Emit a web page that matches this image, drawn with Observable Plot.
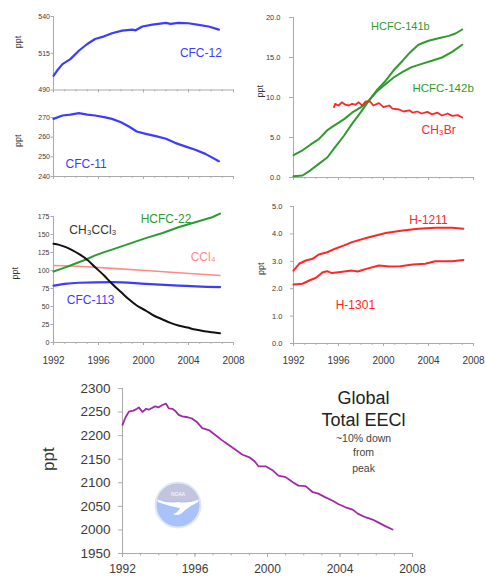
<!DOCTYPE html>
<html><head><meta charset="utf-8">
<script src="https://cdn.jsdelivr.net/npm/d3@7"></script>
<script src="https://cdn.jsdelivr.net/npm/@observablehq/plot@0.6"></script>
<style>
html,body{margin:0;padding:0;background:#fff;overflow:hidden;}
#chart{position:relative;width:486px;height:577px;overflow:hidden;font-family:"Liberation Sans",Arial,Helvetica,sans-serif;}
#chart svg.panel{position:absolute;}
#logo{position:absolute;left:154px;top:481px;}
</style></head><body><div id="chart">
<svg id="logo" width="48" height="48" viewBox="0 0 48 48">
  <circle cx="24" cy="24" r="22.5" fill="#a9c3fa" stroke="#e2e8f7" stroke-width="2"/>
  <path d="M3.2,17.5 A22,22 0 0 1 44.8,17.5 Q34,21.5 24,19.5 Q14,21.5 3.2,17.5Z" fill="#c3c5de"/>
  <path d="M3.4,18.5 Q14,23 24,21 Q34,23 44.6,18.5 L44.2,21 Q36,25 30,30 Q25,36 19,33 Q24,32 26,27 Q18,26 3.8,21Z" fill="#ffffff"/>
  <text x="24" y="14.5" font-size="5" fill="#ffffff" text-anchor="middle" font-family="Liberation Sans, Arial, sans-serif">NOAA</text>
</svg>
</div>
<script>
// ---------------- DATA ----------------
const cfc12Years  = [1992.0,1992.4,1992.8,1993.5,1994.25,1995.0,1995.7,1996.5,1997.2,1998.1,1999.0,1999.3,1999.9,2000.8,2002.0,2002.4,2003.1,2004.0,2004.9,2005.8,2006.7];
const cfc12Values = [499.6,504.0,507.6,511.0,516.7,521.3,524.7,526.5,528.6,530.4,531.1,530.6,533.2,534.5,535.7,535.0,535.7,535.4,534.3,533.2,531.1];

const cfc11Years  = [1992.0,1992.8,1993.5,1994.25,1995.0,1995.7,1996.5,1997.2,1998.0,1998.7,1999.4,2000.2,2001.1,2002.0,2002.8,2003.7,2004.6,2005.5,2006.7];
const cfc11Values = [269.3,271.0,271.5,272.2,271.5,271.0,270.2,269.3,267.6,265.4,262.9,261.7,260.5,259.2,257.1,255.3,253.6,251.5,247.8];

const hcfc141bYears  = [1992.0,1992.8,1993.5,1994.25,1995.0,1995.7,1996.5,1997.2,1998.0,1998.7,1999.4,2000.2,2000.9,2001.7,2002.4,2003.1,2004.0,2004.9,2005.8,2006.4,2007.0];
const hcfc141bValues = [0.15,0.25,0.9,1.7,2.5,3.8,5.25,6.7,8.2,9.6,10.9,12.1,13.4,14.6,15.7,16.6,17.1,17.4,17.7,18.0,18.5];

const hcfc142bYears  = [1992.0,1992.8,1993.5,1994.25,1995.0,1995.4,1996.5,1997.2,1998.0,1998.7,1999.4,2000.2,2000.9,2001.7,2002.5,2003.4,2004.3,2005.2,2006.1,2007.0];
const hcfc142bValues = [2.8,3.4,4.1,4.8,5.9,6.3,7.3,8.1,8.8,9.6,10.75,11.7,12.5,13.2,13.8,14.2,14.6,15.0,15.7,16.6];

const ch3brYears  = [1995.6,1995.7,1996.0,1996.3,1996.6,1996.9,1997.2,1997.5,1997.8,1998.1,1998.4,1998.8,1999.1,1999.6,2000.0,2000.5,2000.8,2001.4,2001.8,2002.3,2002.6,2003.0,2003.4,2003.9,2004.3,2004.8,2005.2,2005.7,2006.1,2006.6,2007.0];
const ch3brValues = [8.8,9.2,9.0,9.4,9.1,9.0,9.2,9.1,9.4,9.0,9.5,9.5,9.0,9.3,8.8,9.0,8.6,8.5,8.25,8.4,8.1,8.25,8.0,8.2,7.9,8.1,7.75,8.0,7.7,7.8,7.5];

const hcfc22Years  = [1992.0,1992.8,1993.5,1994.25,1995.0,1995.7,1996.5,1997.2,1998.7,2000.2,2001.7,2003.1,2004.6,2006.1,2006.8];
const hcfc22Values = [98.6,103,107,111.5,116,121,125.5,129,137,145,152,160,167,174,179];

const ch3ccl3Years  = [1992.0,1992.5,1993.1,1993.7,1994.25,1995.0,1995.7,1996.5,1997.2,1998.0,1998.7,1999.4,2000.2,2000.9,2001.7,2002.4,2003.1,2003.9,2004.6,2005.4,2006.1,2006.8];
const ch3ccl3Values = [137,135.6,132.4,128,123,115,104.6,93,81.5,70,60,51.4,44.4,37.5,32,27.3,23.6,20.8,18,15.7,14.3,13];

const ccl4Years  = [1992.0,1994.25,1997.2,2000.2,2003.1,2006.8];
const ccl4Values = [107,106,103,100,96.8,93];

const cfc113Years  = [1992.0,1993.0,1994.25,1997.2,2000.2,2003.1,2006.8];
const cfc113Values = [79,81.5,83,83.8,81.5,79,76.8];

const h1211Years  = [1992.0,1992.5,1993.1,1993.7,1994.25,1995.0,1995.7,1996.5,1997.2,1998.7,2000.2,2001.7,2003.1,2004.6,2006.1,2007.1];
const h1211Values = [2.66,2.91,3.03,3.09,3.25,3.33,3.46,3.58,3.70,3.88,4.03,4.12,4.19,4.22,4.22,4.19];

const h1301Years  = [1992.0,1992.8,1993.4,1994.0,1994.6,1995.0,1995.4,1996.0,1997.2,1997.7,1998.7,1999.6,2000.5,2001.5,2002.6,2003.7,2004.6,2006.1,2007.1];
const h1301Values = [2.15,2.18,2.30,2.40,2.60,2.64,2.57,2.60,2.66,2.63,2.75,2.85,2.81,2.82,2.88,2.91,3.00,3.00,3.05];

const eeclYears  = [1992.0,1992.17,1992.35,1992.6,1992.8,1992.9,1993.1,1993.3,1993.45,1993.6,1993.8,1994.0,1994.2,1994.4,1994.55,1994.75,1994.9,1995.1,1995.3,1995.6,1995.85,1996.1,1996.4,1996.8,1997.1,1997.5,1997.9,1998.2,1998.6,1999.0,1999.3,1999.5,1999.9,2000.3,2000.6,2001.0,2001.4,2001.7,2002.1,2002.5,2002.8,2003.2,2003.6,2003.9,2004.3,2004.7,2005.0,2005.4,2005.8,2006.1,2006.5,2006.9];
const eeclValues = [2223,2239,2251,2253,2257,2260,2250,2257,2255,2258,2262,2260,2265,2268,2258,2257,2253,2244,2241,2239,2236,2229,2216,2211,2202,2190,2179,2171,2160,2154,2145,2135,2135,2126,2115,2112,2101,2094,2093,2080,2077,2069,2062,2055,2048,2043,2034,2027,2022,2016,2008,2001];

const yearTicks  = [1992,1996,2000,2004,2008];
const yearMinor  = [1992,1993,1994,1995,1996,1997,1998,1999,2000,2001,2002,2003,2004,2005,2006,2007,2008];

const cfc12Ticks = [490,515,540];
const cfc11Ticks = [240,250,260,270];
const hcfcTicks  = [0,5,10,15,20];
const mixTicks   = [0,25,50,75,100,125,150,175];
const halonTicks = [0,1,2,3,4,5];
const eeclTicks  = [1950,2000,2050,2100,2150,2200,2250,2300];

// ---------------- HELPERS ----------------
const FONT = '"Liberation Sans", Arial, Helvetica, sans-serif';
const AXIS = "#aaaaaa";
const TICKTXT = "#3a3a3a";
const chart = document.getElementById("chart");
const rows = (xs, ys) => xs.map((x, i) => ({x, y: ys[i]}));

function panel(cfg) {
  const {box, frame, yDomain, yTicks, yFmt, ySize, yTickSize, yPad, showX, xSize, xTickSize, xPad, ppt, series, labels, extra = []} = cfg;
  const xDomain = [1992, 2008];
  const marks = [
    Plot.ruleY([yDomain[0]], {x1: xDomain[0], x2: xDomain[1], stroke: AXIS}),
    Plot.ruleX([xDomain[0]], {y1: yDomain[0], y2: yDomain[1], stroke: AXIS}),
    Plot.axisX(yearMinor, {anchor: "bottom", tickSize: xTickSize * 0.6, fill: "none", stroke: AXIS, label: null}),
    Plot.axisX(yearTicks, {anchor: "bottom", tickSize: xTickSize, tickPadding: xPad, stroke: AXIS,
      fill: showX ? TICKTXT : "none", fontSize: xSize, tickFormat: d => String(d), label: null}),
    Plot.axisY(yTicks, {anchor: "left", tickSize: yTickSize, tickPadding: yPad, stroke: AXIS,
      fill: TICKTXT, fontSize: ySize, tickFormat: yFmt, label: null}),
    Plot.text(["ppt"], {text: d => d, frameAnchor: "left", dx: ppt.dx, dy: ppt.dy || 0, rotate: -90,
      fontSize: ppt.size, fill: "#333"}),
    ...series.map(s => Plot.line(rows(s.xs, s.ys), {x: "x", y: "y", stroke: s.color, strokeWidth: s.width || 2,
      curve: s.curve || "linear", strokeLinejoin: "round"})),
    ...labels.map(l => Plot.text([l], {x: "x", y: "y", text: "t", fill: l.color, fontSize: l.size || 12})),
    ...extra
  ];
  const svg = Plot.plot({
    width: box.w, height: box.h,
    marginLeft: frame.l - box.x, marginRight: box.x + box.w - frame.r,
    marginTop: frame.t - box.y, marginBottom: box.y + box.h - frame.b,
    style: {fontFamily: FONT, background: "transparent", overflow: "visible"},
    x: {domain: xDomain},
    y: {domain: yDomain},
    marks
  });
  svg.classList.add("panel");
  svg.style.left = box.x + "px";
  svg.style.top = box.y + "px";
  chart.appendChild(svg);
}

const BLUE = "#3c3cff", GREEN = "#2f9a2f", RED = "#ff2626", PINK = "#ff8a8a", BLACK = "#111111", PURPLE = "#a02aa8";
const f0 = d3.format("d"), f1 = d3.format(".1f");

// CFC-12
panel({
  box: {x: 0, y: 0, w: 240, h: 97}, frame: {l: 53, r: 233, t: 16, b: 89.5},
  yDomain: [490, 540], yTicks: cfc12Ticks, yFmt: f0, ySize: 7, yTickSize: 2.5, yPad: 1,
  showX: false, xSize: 10, xTickSize: 3, xPad: 11, ppt: {dx: -35, dy: -5, size: 9},
  series: [{xs: cfc12Years, ys: cfc12Values, color: BLUE, width: 2.2}],
  labels: [{x: 2005.1, y: 515, t: "CFC-12", color: BLUE}]
});

// CFC-11
panel({
  box: {x: 0, y: 100, w: 240, h: 85}, frame: {l: 53, r: 233, t: 117, b: 176},
  yDomain: [240, 270], yTicks: cfc11Ticks, yFmt: f0, ySize: 7, yTickSize: 2.5, yPad: 1,
  showX: false, xSize: 10, xTickSize: 3, xPad: 11, ppt: {dx: -35, size: 9},
  series: [{xs: cfc11Years, ys: cfc11Values, color: BLUE, width: 2.2}],
  labels: [{x: 1994.9, y: 246.5, t: "CFC-11", color: BLUE}]
});

// HCFC-141b, HCFC-142b, CH3Br
panel({
  box: {x: 245, y: 0, w: 241, h: 190}, frame: {l: 293, r: 473, t: 17, b: 177},
  yDomain: [0, 20], yTicks: hcfcTicks, yFmt: f1, ySize: 7.5, yTickSize: 4, yPad: 9,
  showX: false, xSize: 10, xTickSize: 3, xPad: 11, ppt: {dx: -33, size: 9},
  series: [
    {xs: hcfc141bYears, ys: hcfc141bValues, color: GREEN},
    {xs: hcfc142bYears, ys: hcfc142bValues, color: GREEN},
    {xs: ch3brYears, ys: ch3brValues, color: RED, width: 1.8}
  ],
  labels: [
    {x: 2001.5, y: 18.9, t: "HCFC-141b", color: GREEN, size: 11},
    {x: 2005.3, y: 11.1, t: "HCFC-142b", color: GREEN, size: 11.5},
    {x: 2004.9, y: 5.9, t: "CH\u2083Br", color: RED, size: 12}
  ]
});

// Mixed panel
panel({
  box: {x: 0, y: 200, w: 245, h: 170}, frame: {l: 53, r: 233, t: 216, b: 342},
  yDomain: [0, 175], yTicks: mixTicks, yFmt: f0, ySize: 7, yTickSize: 2.5, yPad: 1.5,
  showX: true, xSize: 10, xTickSize: 3, xPad: 11, ppt: {dx: -38, size: 9},
  series: [
    {xs: ccl4Years, ys: ccl4Values, color: PINK, width: 1.6},
    {xs: cfc113Years, ys: cfc113Values, color: BLUE, width: 2.2, curve: "monotone-x"},
    {xs: hcfc22Years, ys: hcfc22Values, color: GREEN},
    {xs: ch3ccl3Years, ys: ch3ccl3Values, color: BLACK, curve: "monotone-x"}
  ],
  labels: [
    {x: 1995.5, y: 155.6, t: "CH\u2083CCl\u2083", color: "#333333"},
    {x: 2002.0, y: 172, t: "HCFC-22", color: GREEN},
    {x: 2005.3, y: 118, t: "CCl\u2084", color: PINK},
    {x: 1995.3, y: 58.3, t: "CFC-113", color: BLUE}
  ]
});

// Halons
panel({
  box: {x: 245, y: 195, w: 241, h: 175}, frame: {l: 293, r: 473, t: 206, b: 343},
  yDomain: [0, 5], yTicks: halonTicks, yFmt: f1, ySize: 7.5, yTickSize: 3, yPad: 8,
  showX: true, xSize: 10, xTickSize: 3, xPad: 10.5, ppt: {dx: -32, size: 9},
  series: [
    {xs: h1211Years, ys: h1211Values, color: RED},
    {xs: h1301Years, ys: h1301Values, color: RED}
  ],
  labels: [
    {x: 2004.0, y: 4.49, t: "H-1211", color: RED},
    {x: 1997.5, y: 1.39, t: "H-1301", color: RED}
  ]
});

// Global total EECl
panel({
  box: {x: 0, y: 375, w: 486, h: 202}, frame: {l: 122, r: 412, t: 388, b: 553},
  yDomain: [1950, 2300], yTicks: eeclTicks, yFmt: f0, ySize: 13.5, yTickSize: 4, yPad: 8,
  showX: true, xSize: 12, xTickSize: 4, xPad: 6.5, ppt: {dx: -74, size: 17},
  series: [{xs: eeclYears, ys: eeclValues, color: PURPLE, width: 1.8}],
  labels: [
    {x: 2005.3, y: 2279, t: "Global", color: "#222", size: 18},
    {x: 2005.3, y: 2232, t: "Total EECl", color: "#222", size: 18},
    {x: 2005.3, y: 2194, t: "~10% down", color: "#444", size: 10.5},
    {x: 2005.3, y: 2163, t: "from", color: "#444", size: 10.5},
    {x: 2005.3, y: 2131, t: "peak", color: "#444", size: 10.5}
  ]
});
</script>
</body></html>
